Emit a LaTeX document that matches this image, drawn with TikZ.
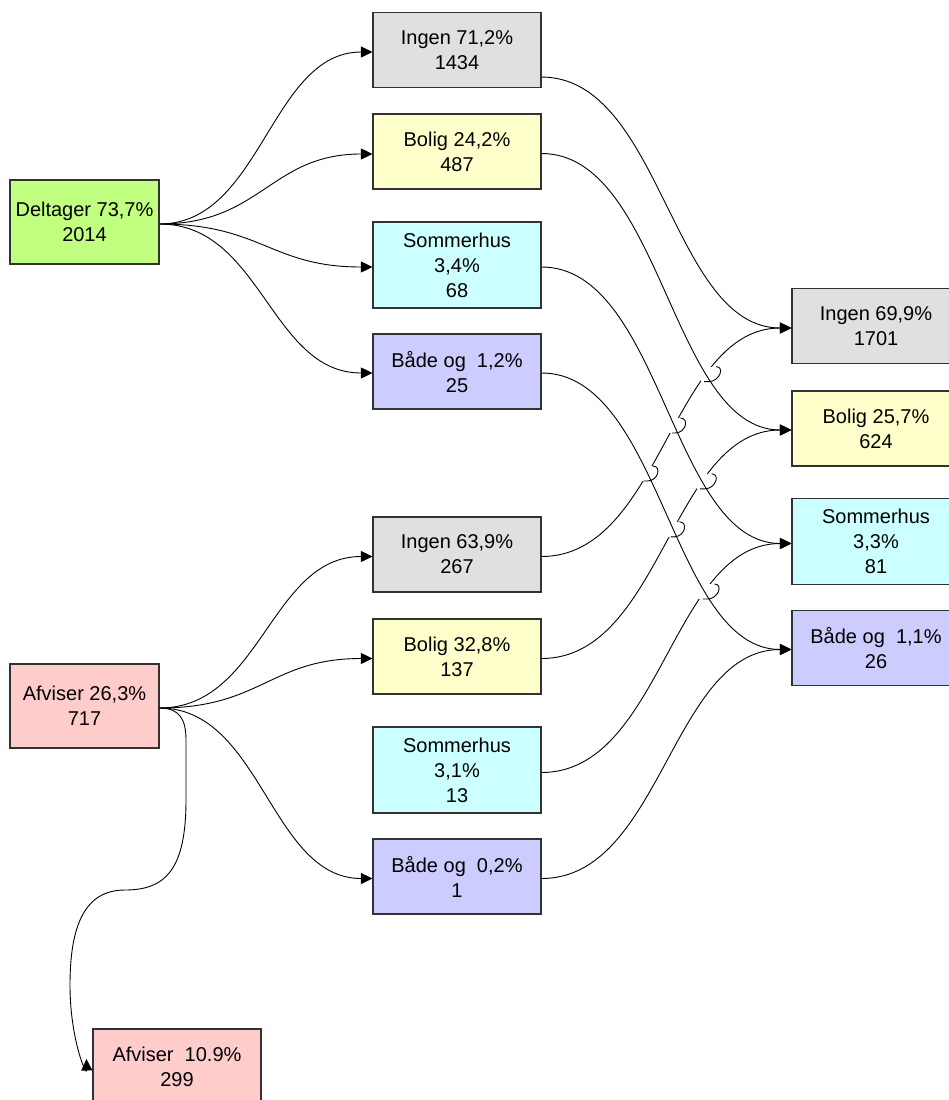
\documentclass[tikz,border=0pt]{standalone}
\usepackage{fontspec}
\setmainfont{Liberation Sans}
\usetikzlibrary{calc,intersections,arrows.meta}
\definecolor{cgray}{RGB}{224,224,224}
\definecolor{cyel}{RGB}{255,255,204}
\definecolor{ccyan}{RGB}{204,255,255}
\definecolor{clav}{RGB}{204,204,255}
\definecolor{cgreen}{RGB}{192,255,128}
\definecolor{cpink}{RGB}{255,204,204}
\definecolor{cborder}{RGB}{50,50,50}
\newcommand\hopcut[3]{%
  \path[name intersections={of=#1 and #2, by={X#3}}];
  \path[name path=hb#3] ($(X#3)+(-14,7.5)$) -- ($(X#3)+(14,7.5)$);
  \path[name path=ht#3] ($(X#3)+(-14,-7.5)$) -- ($(X#3)+(14,-7.5)$);
  \path[name intersections={of=#1 and hb#3, by={P#3}}];
  \path[name intersections={of=#1 and ht#3, by={Q#3}}];
  \coordinate (S#3) at ($(X#3 |- P#3)+(-1,0)$);
  \fill[white] ($(X#3)+(-9,-7.5)$) rectangle ($(X#3)+(9,7.5)$);
}
\newcommand\hoparc[1]{%
  \draw[hopline] (P#1) -- (S#1) .. controls ($(S#1)+(11,0)$) and ($(Q#1)+(9,0)$) .. (Q#1);
}
\tikzset{
  box/.style={draw=cborder, line width=1.1pt, rectangle, inner sep=0pt,
    minimum width=168pt, minimum height=75pt, align=center,
    font=\fontsize{20pt}{25pt}\selectfont, text depth=-4pt},
  wide/.style={minimum width=149pt, minimum height=84pt},
  tall/.style={minimum height=86pt},
  conn/.style={draw=black, line width=0.9pt, -{Triangle[length=11.5pt,width=11pt]}},
  hopline/.style={draw=black, line width=0.9pt, line join=round},
  lc/.style={out=0, in=180, distance=102pt},
  rc/.style={out=0, in=180, distance=120pt}
}
\begin{document}
\begin{tikzpicture}[x=1pt, y=-1pt]
\useasboundingbox (0,0) rectangle (948,1100);
% left column
\node[box, wide, fill=cgreen] (del) at (84.5,222) {Deltager 73,7\%\\2014};
\node[box, wide, fill=cpink] (afv) at (84.5,706) {Afviser 26,3\%\\717};
\node[box, fill=cpink] (afv2) at (177,1066.5) {Afviser\ \ 10.9\%\\299};
% middle column, top group
\node[box, fill=cgray] (ing1) at (457,50) {Ingen 71,2\%\\1434};
\node[box, fill=cyel] (bol1) at (457,151.5) {Bolig 24,2\%\\487};
\node[box, tall, fill=ccyan] (som1) at (457,265) {Sommerhus\\3,4\%\\68};
\node[box, fill=clav] (bad1) at (457,371.5) {Både og\ \ 1,2\%\\25};
% middle column, bottom group
\node[box, fill=cgray] (ing2) at (457,554.5) {Ingen 63,9\%\\267};
\node[box, fill=cyel] (bol2) at (457,656.5) {Bolig 32,8\%\\137};
\node[box, tall, fill=ccyan] (som2) at (457,770) {Sommerhus\\3,1\%\\13};
\node[box, fill=clav] (bad2) at (457,876.5) {Både og\ \ 0,2\%\\1};
% right column
\node[box, fill=cgray] (ingR) at (876,326) {Ingen 69,9\%\\1701};
\node[box, fill=cyel] (bolR) at (876,428.5) {Bolig 25,7\%\\624};
\node[box, tall, fill=ccyan] (somR) at (876,541.5) {Sommerhus\\3,3\%\\81};
\node[box, fill=clav] (badR) at (876,648) {Både og\ \ 1,1\%\\26};
% connection points
\coordinate (delO) at ($(del.east)+(0,2)$);
\coordinate (afvO) at ($(afv.east)+(0,2)$);
\coordinate (ing1O) at ($(ing1.south east)+(0,-11)$);
\coordinate (bol1O) at ($(bol1.east)+(0,2)$);
\coordinate (som1O) at ($(som1.east)+(0,2)$);
\coordinate (bad1O) at ($(bad1.east)+(0,1.5)$);
\coordinate (ing2O) at ($(ing2.east)+(0,2)$);
\coordinate (bol2O) at ($(bol2.east)+(0,2)$);
\coordinate (som2O) at ($(som2.east)+(0,2.5)$);
\coordinate (bad2O) at ($(bad2.east)+(0,2)$);
\coordinate (ing1I) at ($(ing1.west)+(0,2)$);
\coordinate (bol1I) at ($(bol1.west)+(0,2.5)$);
\coordinate (som1I) at ($(som1.west)+(0,2)$);
\coordinate (bad1I) at ($(bad1.west)+(0,1.5)$);
\coordinate (ing2I) at ($(ing2.west)+(0,2)$);
\coordinate (bol2I) at ($(bol2.west)+(0,2)$);
\coordinate (bad2I) at ($(bad2.west)+(0,2)$);
\coordinate (ingRI) at ($(ingR.west)+(0,2)$);
\coordinate (bolRI) at ($(bolR.west)+(0,1.5)$);
\coordinate (somRI) at ($(somR.west)+(0,2)$);
\coordinate (badRI) at ($(badR.west)+(0,1.5)$);
\coordinate (afvtip) at ($(afv2.west)+(-6,-7.5)$);
% left connectors
\draw[conn] (delO) to[lc] (ing1I);
\draw[conn] (delO) to[lc] (bol1I);
\draw[conn] (delO) to[lc] (som1I);
\draw[conn] (delO) to[lc] (bad1I);
\draw[conn] (afvO) to[lc] (ing2I);
\draw[conn] (afvO) to[lc] (bol2I);
\draw[conn] (afvO) to[lc] (bad2I);
\draw[conn] (afvO) .. controls (180,708) and (186,720) .. (186,740) -- (186,800)
  .. controls (186,870) and (165,890) .. (125,890)
  .. controls (85,890) and (70,925) .. (70,985)
  .. controls (70,1040) and (87,1078) .. (afvtip);
% upward connectors (with line jumps)
\draw[conn, name path=U1] (ing2O) to[rc] (ingRI);
\draw[conn, name path=U2] (bol2O) to[rc] (bolRI);
\draw[conn, name path=U3] (som2O) to[rc] (somRI);
\draw[conn, name path=U4] (bad2O) to[rc] (badRI);
% downward connector paths
\path[name path=D2] (bol1O) to[rc] (bolRI);
\path[name path=D3] (som1O) to[rc] (somRI);
\path[name path=D4] (bad1O) to[rc] (badRI);
\hopcut{U1}{D2}{a}
\hopcut{U1}{D3}{b}
\hopcut{U1}{D4}{c}
\hopcut{U2}{D3}{d}
\hopcut{U2}{D4}{e}
\hopcut{U3}{D4}{f}
% downward connectors
\draw[conn] (ing1O) to[rc] (ingRI);
\draw[conn] (bol1O) to[rc] (bolRI);
\draw[conn] (som1O) to[rc] (somRI);
\draw[conn] (bad1O) to[rc] (badRI);
\hoparc{a}\hoparc{b}\hoparc{c}\hoparc{d}\hoparc{e}\hoparc{f}
\end{tikzpicture}
\end{document}
